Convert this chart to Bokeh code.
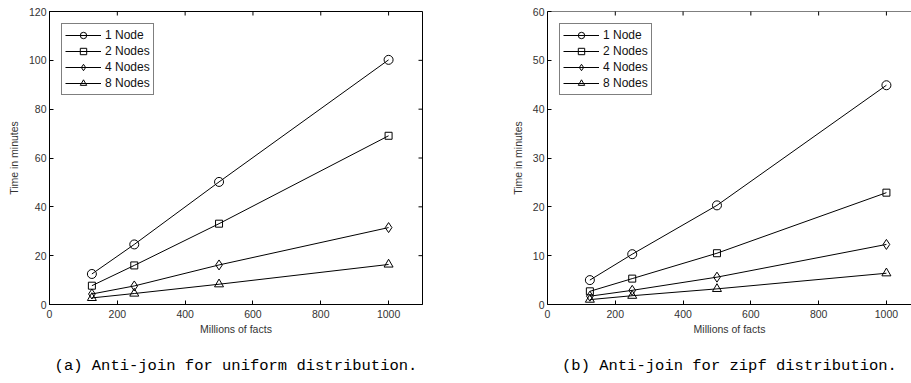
import math
from bokeh.plotting import figure
from bokeh.layouts import row
from bokeh.models import Range1d, LinearAxis, FixedTicker, Span
from bokeh.embed import file_html
from bokeh.resources import INLINE

facts = [125, 250, 500, 1000]
series_names = ["1 Node", "2 Nodes", "4 Nodes", "8 Nodes"]
uniform_1 = [12.5, 24.6, 50.2, 100.2]
uniform_2 = [7.7, 16.0, 33.1, 69.1]
uniform_4 = [4.3, 7.6, 16.2, 31.5]
uniform_8 = [2.7, 4.5, 8.3, 16.4]
zipf_1 = [5.0, 10.3, 20.3, 44.9]
zipf_2 = [2.7, 5.3, 10.5, 22.9]
zipf_4 = [1.7, 2.9, 5.6, 12.3]
zipf_8 = [1.0, 1.8, 3.2, 6.4]
x_ticks = [0, 200, 400, 600, 800, 1000]
uniform_ticks = [0, 20, 40, 60, 80, 100, 120]
zipf_ticks = [0, 10, 20, 30, 40, 50, 60]
captions = ["(a) Anti-join for uniform distribution.", "(b) Anti-join for zipf distribution."]

markers = ["circle", "square", "diamond", "triangle"]
msizes = [9, 7, 10, 9]
SANS = "Liberation Sans"
FIG_H = 383
TOP = 11
FRAME_H = 293


def make_fig(series, ymax, yticks, caption, width, border_left, border_right, xmax, right_ticks):
    p = figure(width=width, height=FIG_H, output_backend="svg", toolbar_location=None,
               x_range=Range1d(0, xmax), y_range=Range1d(0, ymax),
               min_border_left=border_left, min_border_right=border_right,
               min_border_top=TOP, min_border_bottom=FIG_H - TOP - FRAME_H, tools="")
    p.grid.visible = False
    p.background_fill_color = "white"
    p.border_fill_color = "white"
    if right_ticks:
        p.outline_line_color = "black"
        p.outline_line_width = 1
    else:
        p.outline_line_color = None
        p.add_layout(Span(location=ymax, dimension="width", line_color="black", line_width=1))

    for i, ys in enumerate(series):
        p.line(facts, ys, line_color="black", line_width=1, legend_label=series_names[i])
        p.scatter(facts, ys, marker=markers[i], size=msizes[i], line_color="black",
                  fill_color=None, line_width=1, legend_label=series_names[i])

    # inward ticks on the top edge (and right edge), like the reference box
    p.scatter(x_ticks, [ymax] * len(x_ticks), marker="dash", size=8, angle=math.pi / 2,
              line_color="black", line_width=1)
    if right_ticks:
        p.scatter([xmax] * len(yticks), yticks, marker="dash", size=8,
                  line_color="black", line_width=1)

    for ax in (p.xaxis[0], p.yaxis[0]):
        ax.major_tick_in = 4
        ax.major_tick_out = 0
        ax.minor_tick_line_color = None
        ax.axis_line_color = "black"
        ax.major_tick_line_color = "black"
        ax.major_label_text_font = SANS
        ax.major_label_text_font_size = "10.5px"
        ax.major_label_text_color = "#333333"
        ax.axis_label_text_font = SANS
        ax.axis_label_text_font_size = "10.5px"
        ax.axis_label_text_font_style = "normal"
        ax.axis_label_text_color = "#333333"

    p.xaxis.ticker = FixedTicker(ticks=x_ticks)
    p.yaxis.ticker = FixedTicker(ticks=yticks)
    p.xaxis.axis_label = "Millions of facts"
    p.yaxis.axis_label = "Time in minutes"
    p.xaxis.axis_label_standoff = 2
    p.yaxis.axis_label_standoff = 6
    p.xaxis.major_label_standoff = 5
    p.yaxis.major_label_standoff = 3

    # caption: the label of a bare extra axis under the x axis
    cap = LinearAxis(ticker=FixedTicker(ticks=[]), axis_label=caption)
    cap.axis_line_color = None
    cap.major_tick_line_color = None
    cap.minor_tick_line_color = None
    cap.major_tick_in = 0
    cap.major_tick_out = 0
    cap.minor_tick_out = 0
    cap.major_label_standoff = 0
    cap.axis_label_standoff = 19
    cap.axis_label_text_font = "Liberation Mono"
    cap.axis_label_text_font_size = "15.5px"
    cap.axis_label_text_font_style = "normal"
    cap.axis_label_text_color = "#000000"
    p.add_layout(cap, "below")

    lg = p.legend[0]
    lg.location = "top_left"
    lg.margin = 12
    lg.padding = 3
    lg.spacing = 0
    lg.glyph_width = 36
    lg.glyph_height = 16
    lg.label_height = 16
    lg.label_standoff = 4
    lg.label_text_font = SANS
    lg.label_text_font_size = "12px"
    lg.label_text_color = "#111111"
    lg.border_line_color = "black"
    lg.border_line_width = 1.5
    lg.background_fill_alpha = 1
    return p


p1 = make_fig([uniform_1, uniform_2, uniform_4, uniform_8], 120, uniform_ticks,
              captions[0], 455, 49, 33, 1100, True)
p2 = make_fig([zipf_1, zipf_2, zipf_4, zipf_8], 60, zipf_ticks,
              captions[1], 456, 92, 0, 1074, False)

layout = row(p1, p2)
open("out.html", "w").write(file_html(layout, INLINE))
